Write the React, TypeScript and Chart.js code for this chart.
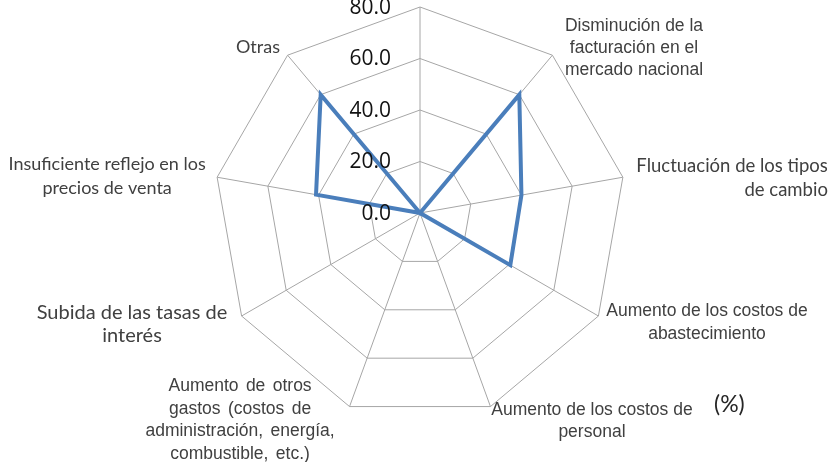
import React, { useEffect, useRef } from 'react';
import { Chart, registerables } from 'chart.js';

Chart.register(...registerables);

// ---- data ----
const categories: string[][] = [
  [''],
  ['Disminución de la', 'facturación en el', 'mercado nacional'],
  ['Fluctuación de los tipos', 'de cambio'],
  ['Aumento de los costos de', 'abastecimiento'],
  ['Aumento de los costos de', 'personal'],
  ['Aumento de otros', 'gastos (costos de', 'administración, energía,', 'combustible, etc.)'],
  ['Subida de las tasas de', 'interés'],
  ['Insuficiente reflejo en los', 'precios de venta'],
  ['Otras'],
];
const values: number[] = [0, 60, 40, 40.5, 0, 0, 0, 41, 60];
const axisMin = 0;
const axisMax = 80;
const axisStep = 20;
const unitLabel = '(%)';

// ---- style / layout ----
const ARIAL = '"Liberation Sans", Arial, sans-serif';
const CAL = 'Lato, "Open Sans", sans-serif';
type LabelStyle = { dx: number; dy: number; align: CanvasTextAlign; family: string; size: number; lh: number; ws?: number };
const labelStyles: LabelStyle[] = [
  { dx: 0, dy: -20, align: 'center', family: ARIAL, size: 17.5, lh: 22 },
  { dx: 81.6, dy: -29.2, align: 'center', family: ARIAL, size: 17.5, lh: 22 },
  { dx: 205, dy: -11, align: 'right', family: CAL, size: 18.5, lh: 24 },
  { dx: 108.6, dy: -5, align: 'center', family: ARIAL, size: 17.5, lh: 23 },
  { dx: 101.5, dy: 3.4, align: 'center', family: ARIAL, size: 17.5, lh: 22 },
  { dx: -109.5, dy: -20.6, align: 'center', family: ARIAL, size: 17.5, lh: 22.7, ws: 2.5 },
  { dx: -109.6, dy: -3, align: 'center', family: CAL, size: 20, lh: 23 },
  { dx: -110, dy: -13, align: 'center', family: CAL, size: 18, lh: 24 },
  { dx: -29.6, dy: -8, align: 'center', family: CAL, size: 18, lh: 24 },
];

const overlayPlugin = {
  id: 'overlay',
  afterDraw(chart: any) {
    const ctx: CanvasRenderingContext2D = chart.ctx;
    const scale = chart.scales.r;
    const outer = scale.getDistanceFromCenterForValue(axisMax);
    ctx.save();
    ctx.textBaseline = 'middle';
    // point labels
    categories.forEach((lines, i) => {
      const st = labelStyles[i];
      const p = scale.getPointPosition(i, outer);
      ctx.font = `${st.size}px ${st.family}`;
      ctx.fillStyle = '#404040';
      ctx.textAlign = st.align;
      (ctx as any).wordSpacing = `${st.ws || 0}px`;
      lines.forEach((line, k) => {
        ctx.fillText(line, p.x + st.dx, p.y + st.dy + k * st.lh);
      });
    });
    (ctx as any).wordSpacing = '0px';
    // tick labels
    ctx.font = '21px "Open Sans", sans-serif';
    ctx.fillStyle = '#111111';
    ctx.textAlign = 'right';
    scale.ticks.forEach((t: any) => {
      const d = scale.getDistanceFromCenterForValue(t.value);
      ctx.fillText(t.value.toFixed(1), scale.xCenter - 29, scale.yCenter - d + 1);
    });
    // unit
    ctx.font = '23px ' + CAL;
    ctx.fillStyle = '#262626';
    ctx.textAlign = 'left';
    ctx.fillText(unitLabel, 714, 405);
    ctx.restore();
  },
};

export default function App() {
  const ref = useRef<HTMLCanvasElement>(null);
  useEffect(() => {
    if (!ref.current) return;
    const chart = new Chart(ref.current, {
      type: 'radar',
      data: {
        labels: categories,
        datasets: [
          {
            data: values,
            borderColor: '#4A7EBB',
            borderWidth: 4,
            borderJoinStyle: 'miter',
            fill: false,
            pointRadius: 0,
            tension: 0,
          },
        ],
      },
      options: {
        responsive: false,
        animation: false,
        layout: { padding: { left: 214, right: 211, top: 7, bottom: 43 } },
        plugins: { legend: { display: false }, tooltip: { enabled: false }, title: { display: false } },
        scales: {
          r: {
            min: axisMin,
            max: axisMax,
            ticks: { display: false, stepSize: axisStep },
            pointLabels: { display: false },
            grid: { color: '#a6a6a6', lineWidth: 1 },
            angleLines: { color: '#a6a6a6', lineWidth: 1 },
          },
        },
      },
      plugins: [overlayPlugin],
    });
    return () => chart.destroy();
  }, []);
  return (
    <div style={{ position: 'absolute', left: 0, top: 0, width: 837, height: 462, background: '#fff' }}>
      <canvas ref={ref} width={837} height={462} />
    </div>
  );
}
